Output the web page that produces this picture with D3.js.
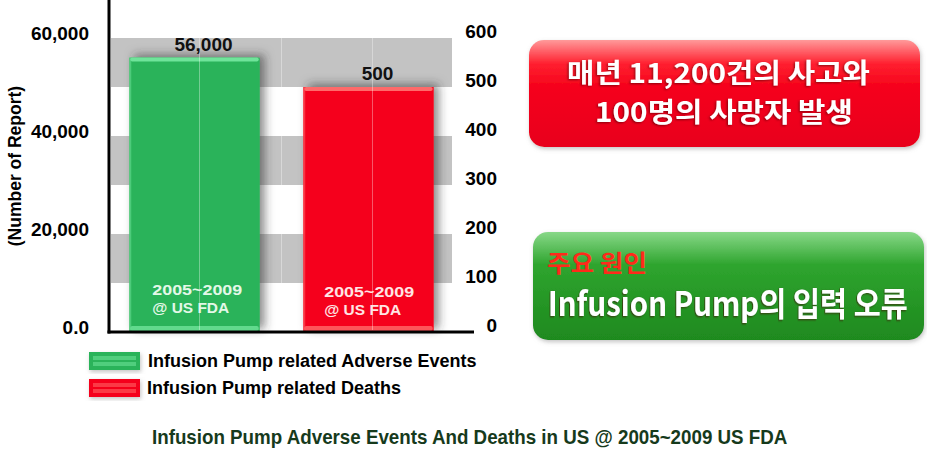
<!DOCTYPE html>
<html><head><meta charset="utf-8">
<script src="https://cdn.jsdelivr.net/npm/d3@7"></script>
<style>
body{margin:0;background:#fff;}
svg{display:block;}
text{font-family:"Liberation Sans",Arial,sans-serif;}
.kr{font-family:"Noto Sans CJK KR","Liberation Sans",sans-serif;}
</style></head><body>
<svg id="c" width="927" height="459"></svg>
<script>
// ---- data ----
const categories = ["Infusion Pump related Adverse Events", "Infusion Pump related Deaths"];
const values = [56000, 500];
const valueLabels = ["56,000", "500"];
const axisOf = ["left", "right"];
const leftTicks = [0, 20000, 40000, 60000];
const leftTickLabels = ["0.0", "20,000", "40,000", "60,000"];
const rightTicks = [0, 100, 200, 300, 400, 500, 600];
const innerLabel = ["2005~2009", "@ US FDA"];
const bandStarts = [100, 300, 500]; // shaded bands (right-axis units)
const yTitle = "(Number of Report)";
const caption = "Infusion Pump Adverse Events And Deaths in US  @ 2005~2009 US FDA";
const box1Lines = ["매년 11,200건의 사고와", "100명의 사망자 발생"];
const box2Small = "주요 원인";
const box2Main = "Infusion Pump의 입력 오류";

const svg = d3.select("#c");
const defs = svg.append("defs");

const fillMain = ["#2bb35a", "#f5001a"];
const fillLight = ["#6fe49a", "#ff6a6a"];

// filters
const sh = defs.append("filter").attr("id","sh").attr("x","-30%").attr("y","-30%").attr("width","160%").attr("height","160%");
sh.append("feDropShadow").attr("dx",5).attr("dy",-3).attr("stdDeviation",5).attr("flood-color","#333").attr("flood-opacity",0.55);
const tsh = defs.append("filter").attr("id","tsh").attr("x","-10%").attr("y","-20%").attr("width","120%").attr("height","140%");
tsh.append("feDropShadow").attr("dx",-1).attr("dy",1).attr("stdDeviation",0.8).attr("flood-color","#400").attr("flood-opacity",0.6);
const bsh = defs.append("filter").attr("id","bsh").attr("x","-10%").attr("y","-10%").attr("width","120%").attr("height","130%");
bsh.append("feDropShadow").attr("dx",1).attr("dy",2).attr("stdDeviation",2).attr("flood-color","#888").attr("flood-opacity",0.5);

const gRed = defs.append("linearGradient").attr("id","gRed").attr("x1",0).attr("y1",0).attr("x2",0).attr("y2",1);
[[0,"#ff9a9a"],[0.22,"#ff2030"],[0.45,"#f5001a"],[1,"#e8001a"]].forEach(s=>gRed.append("stop").attr("offset",s[0]).attr("stop-color",s[1]));
const gGrn = defs.append("linearGradient").attr("id","gGrn").attr("x1",0).attr("y1",0).attr("x2",0).attr("y2",1);
[[0,"#88d888"],[0.3,"#2fa52f"],[0.7,"#249424"],[1,"#1f8a1f"]].forEach(s=>gGrn.append("stop").attr("offset",s[0]).attr("stop-color",s[1]));

// helper: scale text horizontally to a given width using a transform
function fit(sel, x0, y0, width) {
  const natural = sel.node().getComputedTextLength();
  const s = width / natural;
  sel.attr("x", 0).attr("y", 0).attr("transform", `translate(${x0},${y0}) scale(${s},1)`);
}

// scales
const x = d3.scaleBand().domain(categories).range([111, 452]).paddingInner(0.25).paddingOuter(0.105);
const yL = d3.scaleLinear().domain([0, 60000]).range([332, 38]);
const yR = d3.scaleLinear().domain([0, 600]).range([332, 38]);
const yOf = i => axisOf[i] === "left" ? yL : yR;

// shaded bands
svg.append("g").selectAll("rect").data(bandStarts).join("rect")
  .attr("x", 111).attr("width", 341)
  .attr("y", d => yR(d + 100)).attr("height", d => yR(d) - yR(d + 100))
  .attr("fill", "#c3c3c3");

// bars
const bars = svg.append("g");
categories.forEach((c, i) => {
  const y = yOf(i), x0 = x(c), w = x.bandwidth(), top = y(values[i]), h = y(0) - top;
  const g = bars.append("g");
  g.append("rect").attr("x", x0).attr("y", top).attr("width", w).attr("height", h).attr("fill", fillMain[i]).attr("filter","url(#sh)");
  g.append("rect").attr("x", x0+1).attr("y", top).attr("width", w-2).attr("height", 4).attr("rx",2).attr("fill", fillLight[i]);
  g.append("rect").attr("x", x0+1).attr("y", y(0)-6).attr("width", w-2).attr("height", 5).attr("rx",2).attr("fill", fillLight[i]).attr("opacity",0.8);
  g.append("rect").attr("x", x0).attr("y", top).attr("width", 2).attr("height", h).attr("fill", fillLight[i]).attr("opacity",0.5);
});

// faint vertical grid lines
const gridX = [x(categories[0]) + x.bandwidth()/2 + 5, (x(categories[0]) + x.bandwidth() + x(categories[1]))/2, x(categories[1]) + x.bandwidth()/2 + 4];
svg.append("g").selectAll("line").data(gridX).join("line")
  .attr("x1", d => d).attr("x2", d => d).attr("y1", 38).attr("y2", 330)
  .attr("stroke", "#ffffff").attr("stroke-opacity", 0.35).attr("stroke-width", 1);

// value labels
const innerW = [90, 77];
categories.forEach((c, i) => {
  svg.append("text").attr("x", x(c) + x.bandwidth()/2 + 9).attr("y", yOf(i)(values[i]) - 7)
    .attr("text-anchor","middle").attr("font-size", 19).attr("font-weight","bold").attr("fill","#111")
    .text(valueLabels[i]);
  innerLabel.forEach((t, k) => {
    const tt = svg.append("text")
      .attr("font-size", 15.5).attr("font-weight","bold").attr("fill", i ? "#ffe4e4" : "#e4f8e8")
      .text(t);
    fit(tt, x(c) + 23 - (i ? 2 : 0), 295 + k*18 + (i ? 2 : 0), innerW[k]);
  });
});

// axes lines
svg.append("line").attr("x1",109).attr("x2",109).attr("y1",0).attr("y2",333.5).attr("stroke","#000").attr("stroke-width",3);
svg.append("line").attr("x1",107.5).attr("x2",474).attr("y1",332).attr("y2",332).attr("stroke","#000").attr("stroke-width",3);

// left axis labels
const la = svg.append("g").attr("transform","translate(89,0)")
  .call(d3.axisLeft(yL).tickValues(leftTicks).tickFormat((d,i)=>leftTickLabels[i]).tickSize(0).tickPadding(0));
la.select(".domain").remove();
la.selectAll("text").attr("font-family","Liberation Sans, Arial, sans-serif").attr("font-size",19).attr("font-weight","bold").attr("fill","#000");
la.selectAll(".tick").attr("transform", d => `translate(0,${yL(d) - 4.5})`);

// right axis labels
const ra = svg.append("g").attr("transform","translate(497,0)")
  .call(d3.axisLeft(yR).tickValues(rightTicks).tickFormat(d3.format("d")).tickSize(0).tickPadding(0));
ra.select(".domain").remove();
ra.selectAll("text").attr("font-family","Liberation Sans, Arial, sans-serif").attr("font-size",19).attr("font-weight","bold").attr("fill","#000");
ra.selectAll(".tick").attr("transform", d => `translate(0,${yR(d) - 6.5})`);

// y title
svg.append("text").attr("transform","translate(21,166) rotate(-90)").attr("text-anchor","middle")
  .attr("font-size",17.5).attr("font-weight","bold").attr("fill","#000").text(yTitle);

// legend
const leg = svg.append("g");
categories.forEach((c, i) => {
  const yy = 352 + i*27;
  leg.append("rect").attr("x",89).attr("y",yy).attr("width",51).attr("height",18).attr("fill",fillMain[i]).attr("filter","url(#bsh)");
  leg.append("rect").attr("x",93).attr("y",yy+4).attr("width",43).attr("height",10).attr("fill",fillLight[i]).attr("opacity",0.55);
  leg.append("rect").attr("x",93).attr("y",yy+8).attr("width",43).attr("height",2).attr("fill",fillMain[i]);
  leg.append("text").attr("x", i ? 147 : 148).attr("y", yy + 9).attr("dy","0.36em")
    .attr("font-size",18).attr("font-weight","bold").attr("fill","#000").text(c);
});

// caption
const cap = svg.append("text").attr("font-size",20).attr("font-weight","bold")
  .attr("fill","#163a1c").text(caption);
fit(cap, 152, 444, 636);

// red box
svg.append("rect").attr("x",529).attr("y",40).attr("width",391).attr("height",107).attr("rx",15)
  .attr("fill","url(#gRed)").attr("filter","url(#bsh)");
const b1 = [{x:567,w:303,y:73},{x:595,w:258,y:112}];
box1Lines.forEach((t,i)=>{
  const tt = svg.append("text").attr("class","kr").attr("dy","0.36em")
    .attr("font-size",27).attr("font-weight","bold").attr("fill","#fff")
    .attr("filter","url(#tsh)").text(t);
  fit(tt, b1[i].x, b1[i].y, b1[i].w);
});

// green box
svg.append("rect").attr("x",533).attr("y",232).attr("width",391).attr("height",108).attr("rx",15)
  .attr("fill","url(#gGrn)").attr("filter","url(#bsh)");
const sm = svg.append("text").attr("class","kr").attr("dy","0.36em")
  .attr("font-size",24).attr("font-weight","bold").attr("fill","#ff2a1a").text(box2Small);
fit(sm, 547, 263, 100);
const mn = svg.append("text").attr("class","kr").attr("dy","0.36em")
  .attr("font-size",33).attr("font-weight","bold").attr("fill","#fff")
  .attr("filter","url(#tsh)").text(box2Main);
fit(mn, 548, 304, 360);
</script>
</body></html>
